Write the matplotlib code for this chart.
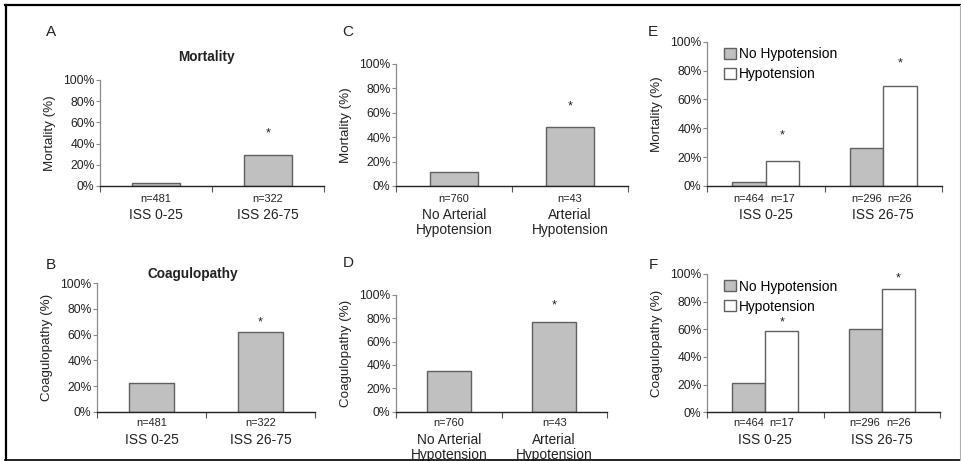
import numpy as np
import matplotlib
matplotlib.use("Agg")
import matplotlib.pyplot as plt
from matplotlib.lines import Line2D
from matplotlib.ticker import FuncFormatter

plt.rcParams["font.family"] = ["Liberation Sans", "DejaVu Sans"]

# ---------------------------------------------------------------------------
# data (percent of patients)
iss_groups = ["ISS 0-25", "ISS 26-75"]
iss_n = ["n=481", "n=322"]
mortality_by_iss = [3, 29]
coagulopathy_by_iss = [22, 62]

hypo_groups = ["No Arterial\nHypotension", "Arterial\nHypotension"]
hypo_n = ["n=760", "n=43"]
mortality_by_hypo = [11.5, 48.5]
coagulopathy_by_hypo = [35, 77]

series_names = ["No Hypotension", "Hypotension"]
split_n_no_hypo = ["n=464", "n=296"]
split_n_hypo = ["n=17", "n=26"]
mortality_no_hypo = [2.6, 26]
mortality_hypo = [17.6, 69.5]
coagulopathy_no_hypo = [21, 60]
coagulopathy_hypo = [59, 89]

W, H = 961, 461
GRAY = "#c0c0c0"
EDGE = "#606060"


def px_rect(left, top, right, bottom):
    return [left / W, 1 - bottom / H, (right - left) / W, (bottom - top) / H]


def style_axes(ax, ncat, ylabel):
    ax.set_xlim(0, ncat)
    ax.set_ylim(0, 100)
    ax.set_yticks(np.arange(0, 101, 20))
    ax.yaxis.set_major_formatter(FuncFormatter(lambda v, _: f"{v:.0f}%"))
    ax.set_xticks(np.arange(ncat + 1))
    ax.set_xticklabels([])
    for s in ("top", "right"):
        ax.spines[s].set_visible(False)
    ax.spines["left"].set_color("#8a8a8a")
    ax.spines["left"].set_linewidth(0.9)
    ax.spines["bottom"].set_color("#222222")
    ax.spines["bottom"].set_linewidth(1.0)
    ax.tick_params(axis="y", direction="out", length=3, width=0.8, pad=1,
                   color="#8a8a8a", labelsize=8.7, labelcolor="#222222")
    ax.tick_params(axis="x", direction="out", length=4, width=0.8,
                   color="#555555")
    ax.set_ylabel(ylabel, fontsize=9.6, labelpad=5, color="#222222")


def label_below(ax, x, text, off_px, size):
    ax.annotate(text, xy=(x, 0), xycoords=("data", "axes fraction"),
                xytext=(0, -off_px * 0.72), textcoords="offset points",
                ha="center", va="top", fontsize=size, color="#222222",
                linespacing=1.1)


def star(ax, x, y, off_px):
    ax.annotate("*", xy=(x, y), xytext=(0, off_px * 0.72),
                textcoords="offset points", ha="center", va="center",
                fontsize=9, color="#222222")


def single_panel(ax, values, ns, cats, ylabel, star_px, n_px=(8, 22)):
    x = np.arange(len(values)) + 0.5
    ax.bar(x, values, width=0.42, color=GRAY, edgecolor=EDGE, linewidth=1)
    style_axes(ax, len(values), ylabel)
    for xi, n, c in zip(x, ns, cats):
        label_below(ax, xi, n, n_px[0], 7.9)
        label_below(ax, xi, c, n_px[1], 9.9)
    star(ax, x[1], values[1], star_px)


def split_panel(ax, no_hypo, hypo, ylabel, star_px, n_px=(8, 22)):
    x = np.arange(len(no_hypo)) + 0.5
    w = 0.285
    ax.bar(x - w / 2, no_hypo, width=w, color=GRAY, edgecolor=EDGE,
           linewidth=1, label=series_names[0])
    ax.bar(x + w / 2, hypo, width=w, color="white", edgecolor=EDGE,
           linewidth=1, label=series_names[1])
    style_axes(ax, len(no_hypo), ylabel)
    for i, xi in enumerate(x):
        label_below(ax, xi - w / 2, split_n_no_hypo[i], n_px[0], 7.9)
        label_below(ax, xi + w / 2, split_n_hypo[i], n_px[0], 7.9)
        label_below(ax, xi, iss_groups[i], n_px[1], 9.9)
        star(ax, xi + w / 2, hypo[i], star_px[i])
    ax.legend(loc="upper left", bbox_to_anchor=(0.05, 1.0), frameon=False,
              fontsize=9.9, handlelength=0.85, handleheight=0.85,
              handletextpad=0.25, labelspacing=0.45, borderaxespad=0)


fig = plt.figure(figsize=(W / 100, H / 100), dpi=100)

axA = fig.add_axes(px_rect(100, 80, 324, 186))
single_panel(axA, mortality_by_iss, iss_n, iss_groups, "Mortality (%)", 22)
axB = fig.add_axes(px_rect(97, 283.3, 315, 411.7))
single_panel(axB, coagulopathy_by_iss, iss_n, iss_groups,
             "Coagulopathy (%)", 10, n_px=(6, 21))
axC = fig.add_axes(px_rect(396, 64, 628, 186))
single_panel(axC, mortality_by_hypo, hypo_n, hypo_groups, "Mortality (%)", 20)
axD = fig.add_axes(px_rect(396, 294.7, 607, 411.7))
single_panel(axD, coagulopathy_by_hypo, hypo_n, hypo_groups,
             "Coagulopathy (%)", 16, n_px=(6, 21))
axE = fig.add_axes(px_rect(707, 41.7, 942, 186))
split_panel(axE, mortality_no_hypo, mortality_hypo, "Mortality (%)", (25, 22))
axF = fig.add_axes(px_rect(707, 274, 940, 412.3))
split_panel(axF, coagulopathy_no_hypo, coagulopathy_hypo, "Coagulopathy (%)",
            (8, 11), n_px=(6, 21))

# panel letters and titles
for letter, (px, py) in zip("ABCDEF", [(51, 32), (51, 265), (348, 32),
                                       (348, 263), (653, 32), (653, 265)]):
    fig.text(px / W, 1 - py / H, letter, fontsize=11, ha="center",
             va="center", color="#222222")
fig.text(206 / W, 1 - 57 / H, "Mortality", fontsize=9.8, fontweight="bold",
         ha="center", va="center", color="#222222")
fig.text(192.5 / W, 1 - 274 / H, "Coagulopathy", fontsize=9.8,
         fontweight="bold", ha="center", va="center", color="#222222")

# outer frame
def frame_line(x0, y0, x1, y1, color="black", lw=1.6):
    fig.add_artist(Line2D([x0 / W, x1 / W], [1 - y0 / H, 1 - y1 / H],
                          color=color, linewidth=lw,
                          transform=fig.transFigure))

frame_line(6, 5, 6, 459.5)
frame_line(5, 5, 960, 5)
frame_line(5, 459.5, 960, 459.5, lw=1.2)
frame_line(959.5, 5, 959.5, 459.5, color="#b0b0b0", lw=0.8)

fig.savefig("out.png", dpi=100)
